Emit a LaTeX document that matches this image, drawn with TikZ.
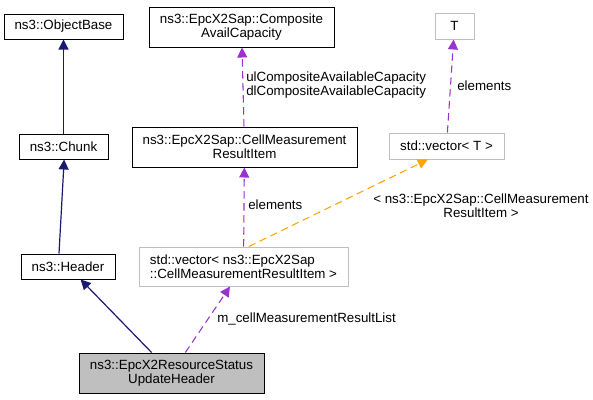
\documentclass[tikz,border=0pt]{standalone}
\usepackage{fontspec}
\setmainfont{Liberation Sans}
\usetikzlibrary{arrows.meta}
\definecolor{edgeblue}{HTML}{191970}
\definecolor{edgepurple}{HTML}{9A32CD}
\definecolor{edgeorange}{HTML}{FFA500}
\definecolor{boxgray}{HTML}{BFBFBF}
\begin{document}
\begin{tikzpicture}[x=0.75pt, y=-0.75pt,
		font=\fontsize{10}{10.5}\selectfont,
		cls/.style={draw=black, line width=0.75pt, inner sep=2pt, align=center},
		tmpl/.style={draw=boxgray, line width=0.75pt, inner sep=2pt, align=center},
		inherit/.style={draw=edgeblue, line width=0.9pt, -{Triangle[length=7.5pt, width=7.5pt]}},
		member/.style={draw=edgepurple, line width=0.8pt, dash pattern=on 5.5pt off 3.5pt, -{Triangle[length=7.5pt, width=7.5pt, fill=edgepurple]}},
		tinst/.style={draw=edgeorange, line width=0.8pt, dash pattern=on 5.5pt off 3.5pt, -{Triangle[length=7.5pt, width=7.5pt, fill=edgeorange]}},
		lbl/.style={inner sep=0pt, align=center}]
			\useasboundingbox (0, 0) rectangle (593, 400);
			\draw (63.5, 26.5) 	node[cls, minimum width=89.25pt, minimum height=18.75pt] 	(base) 		{ns3::ObjectBase};
			\draw (63.5, 146.5) 	node[cls, minimum width=66.75pt, minimum height=18.75pt] 	(chunk) 	{ns3::Chunk};
			\draw (68, 266.5) 	node[cls, minimum width=70.5pt, minimum height=18.75pt] 	(header) 	{ns3::Header};
			\draw (171.5, 373) 	node[cls, fill=boxgray, minimum width=138.75pt, minimum height=30pt] 	(upd) 	{ns3::EpcX2ResourceStatus\\UpdateHeader};
			\draw (241.5, 27) 	node[cls, minimum width=138.75pt, minimum height=30pt] 	(avail) 	{ns3::EpcX2Sap::Composite\\AvailCapacity};
			\draw (244.5, 147) 	node[cls, minimum width=168.75pt, minimum height=30pt] 	(item) 		{ns3::EpcX2Sap::CellMeasurement\\ResultItem};
			\draw (243.5, 266.5) 	node[tmpl, align=left, minimum width=156.75pt, minimum height=29.25pt] 	(vecitem) 	{std::vector< ns3::EpcX2Sap\\::CellMeasurementResultItem >};
			\draw (454.5, 26) 	node[tmpl, minimum width=29.25pt, minimum height=19.5pt] 	(t) 		{T};
			\draw (446.5, 146) 	node[tmpl, minimum width=86.25pt, minimum height=19.5pt] 	(vect) 		{std::vector< T >};

			\draw[inherit] (chunk) -- (base);
			\draw[inherit] ([xshift=-6.75pt]header.north) -- ([xshift=0.5pt]chunk.south);
			\draw[inherit] (upd) -- (header);
			\draw[member] (upd) -- (vecitem);
			\draw[member] (vecitem) -- (item);
			\draw[member] (item) -- (avail);
			\draw[member] (vect) -- (t);
			\draw[tinst] ([xshift=4pt]vecitem.north) -- ([xshift=-14pt]vect.south);

			\draw (246, 85) 	node[lbl, anchor=west] 	(lcap) 		{ulCompositeAvailableCapacity\\dlCompositeAvailableCapacity};
			\draw (457, 86) 	node[lbl, anchor=west] 	(lelemt) 	{elements};
			\draw (248, 205) 	node[lbl, anchor=west] 	(lelemi) 	{elements};
			\draw (481, 206) 	node[lbl] 		(ltarg) 	{< ns3::EpcX2Sap::CellMeasurement\\ResultItem >};
			\draw (217, 319) 	node[lbl, anchor=west] 	(llist) 	{m\_cellMeasurementResultList};
		\end{tikzpicture}
\end{document}
